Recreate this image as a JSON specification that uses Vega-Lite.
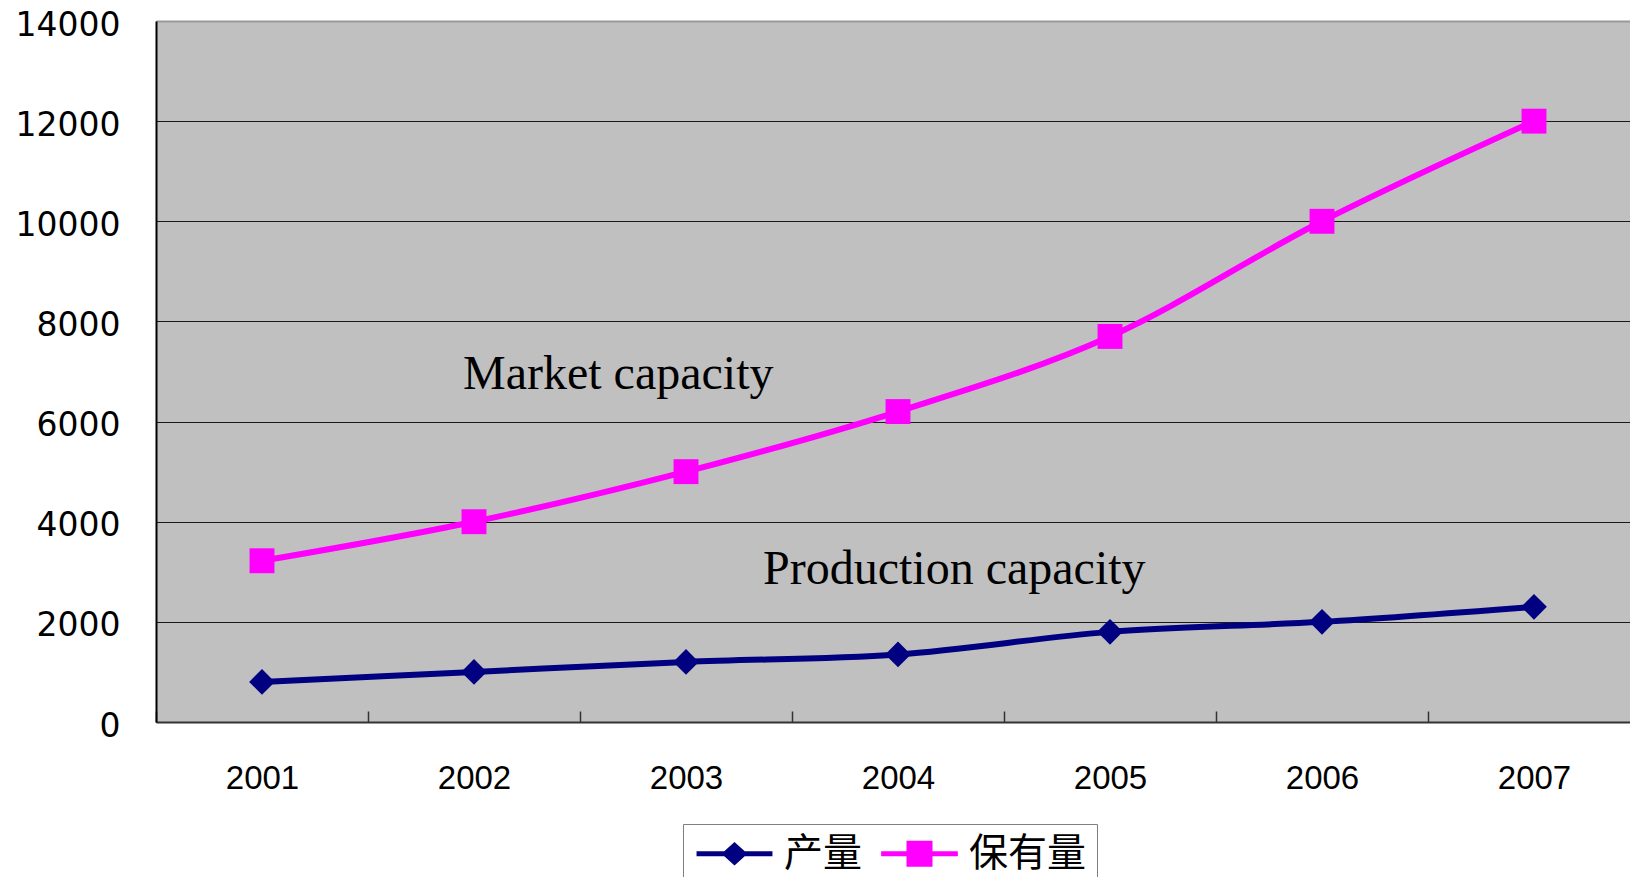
{
  "$schema": "https://vega.github.io/schema/vega-lite/v6.json",
  "width": 1474,
  "height": 701,
  "autosize": {"type": "none"},
  "padding": {"left": 156, "top": 21, "right": 0, "bottom": 155},
  "background": "white",
  "config": {
    "view": {"fill": "#C0C0C0", "stroke": null},
    "legend": {
      "title": null,
      "orient": "none",
      "legendX": 527,
      "legendY": 803,
      "direction": "horizontal",
      "strokeColor": "#7f7f7f",
      "fillColor": "#ffffff",
      "padding": 10,
      "labelFont": "Noto Sans CJK SC",
      "labelFontSize": 39,
      "labelColor": "#000000",
      "labelOffset": 30,
      "symbolSize": 676,
      "symbolOffset": 22,
      "symbolOpacity": 1,
      "symbolStrokeWidth": 0,
      "columnPadding": 15
    }
  },
  "datasets": {
    "series": [
      {"year": "2001", "series": "产量", "value": 800},
      {"year": "2002", "series": "产量", "value": 1000},
      {"year": "2003", "series": "产量", "value": 1200},
      {"year": "2004", "series": "产量", "value": 1350},
      {"year": "2005", "series": "产量", "value": 1800},
      {"year": "2006", "series": "产量", "value": 2000},
      {"year": "2007", "series": "产量", "value": 2300},
      {"year": "2001", "series": "保有量", "value": 3220},
      {"year": "2002", "series": "保有量", "value": 4000},
      {"year": "2003", "series": "保有量", "value": 5000},
      {"year": "2004", "series": "保有量", "value": 6200},
      {"year": "2005", "series": "保有量", "value": 7700},
      {"year": "2006", "series": "保有量", "value": 10000},
      {"year": "2007", "series": "保有量", "value": 12000}
    ],
    "notes": [
      {"year": "2002", "value": 6650, "label": "Market capacity"},
      {"year": "2003", "value": 2750, "label": "Production capacity"}
    ]
  },
  "encoding": {
    "x": {
      "field": "year",
      "type": "ordinal",
      "scale": {"type": "band", "range": [0, 1484], "paddingInner": 0, "paddingOuter": 0},
      "axis": {
        "title": null,
        "labelAngle": 0,
        "labelFont": "Liberation Sans",
        "labelFontSize": 33,
        "labelColor": "#000000",
        "labelPadding": 51,
        "tickBand": "extent",
        "tickSize": -11,
        "tickColor": "#333333",
        "tickWidth": 1.5,
        "domainColor": "#333333",
        "domainWidth": 2,
        "grid": false
      }
    },
    "y": {
      "field": "value",
      "type": "quantitative",
      "scale": {"domain": [0, 14000], "nice": false, "zero": true},
      "axis": {
        "title": null,
        "values": [0, 2000, 4000, 6000, 8000, 10000, 12000, 14000],
        "format": "d",
        "labelFont": "DejaVu Sans",
        "labelFontSize": 33,
        "labelColor": "#000000",
        "labelPadding": 36,
        "labelOffset": 4,
        "ticks": false,
        "domainColor": "#000000",
        "domainWidth": 2,
        "grid": true,
        "gridColor": {"condition": {"test": "datum.value === 14000", "value": "#999999"}, "value": "#1a1a1a"},
        "gridWidth": {"condition": {"test": "datum.value === 14000", "value": 2}, "value": 1}
      }
    }
  },
  "layer": [
    {
      "data": {"name": "series"},
      "mark": {"type": "line", "interpolate": "cardinal", "strokeWidth": 6, "strokeCap": "round", "strokeJoin": "round"},
      "encoding": {
        "color": {
          "field": "series",
          "type": "nominal",
          "sort": ["产量", "保有量"],
          "scale": {"domain": ["产量", "保有量"], "range": ["#000080", "#FF00FF"]}
        }
      }
    },
    {
      "data": {"name": "series"},
      "transform": [{"filter": "datum.series === '产量'"}],
      "mark": {"type": "point", "shape": "diamond", "filled": true, "opacity": 1, "size": 660},
      "encoding": {
        "color": {"field": "series", "type": "nominal"}
      }
    },
    {
      "data": {"name": "series"},
      "transform": [{"filter": "datum.series === '保有量'"}],
      "mark": {"type": "point", "shape": "square", "filled": true, "opacity": 1, "size": 620},
      "encoding": {
        "color": {"field": "series", "type": "nominal"}
      }
    },
    {
      "data": {"name": "series"},
      "mark": {"type": "point", "filled": true, "opacity": 0, "size": 10},
      "encoding": {
        "color": {"field": "series", "type": "nominal"},
        "shape": {
          "field": "series",
          "type": "nominal",
          "sort": ["产量", "保有量"],
          "scale": {
            "domain": ["产量", "保有量"],
            "range": [
              "M-2.92,-0.2H2.92V0.2H-2.92Z M-1,0L0,-0.9L1,0L0,0.9Z",
              "M-2.95,-0.2H2.95V0.2H-2.95Z M-1,-1H1V1H-1Z"
            ]
          }
        }
      }
    },
    {
      "data": {"name": "notes"},
      "transform": [{"filter": "datum.label === 'Market capacity'"}],
      "mark": {"type": "text", "align": "left", "baseline": "alphabetic", "dx": -11, "font": "Liberation Serif", "fontSize": 48, "color": "#000000"},
      "encoding": {"text": {"field": "label"}}
    },
    {
      "data": {"name": "notes"},
      "transform": [{"filter": "datum.label === 'Production capacity'"}],
      "mark": {"type": "text", "align": "left", "baseline": "alphabetic", "dx": 77, "font": "Liberation Serif", "fontSize": 48, "color": "#000000"},
      "encoding": {"text": {"field": "label"}}
    }
  ]
}
